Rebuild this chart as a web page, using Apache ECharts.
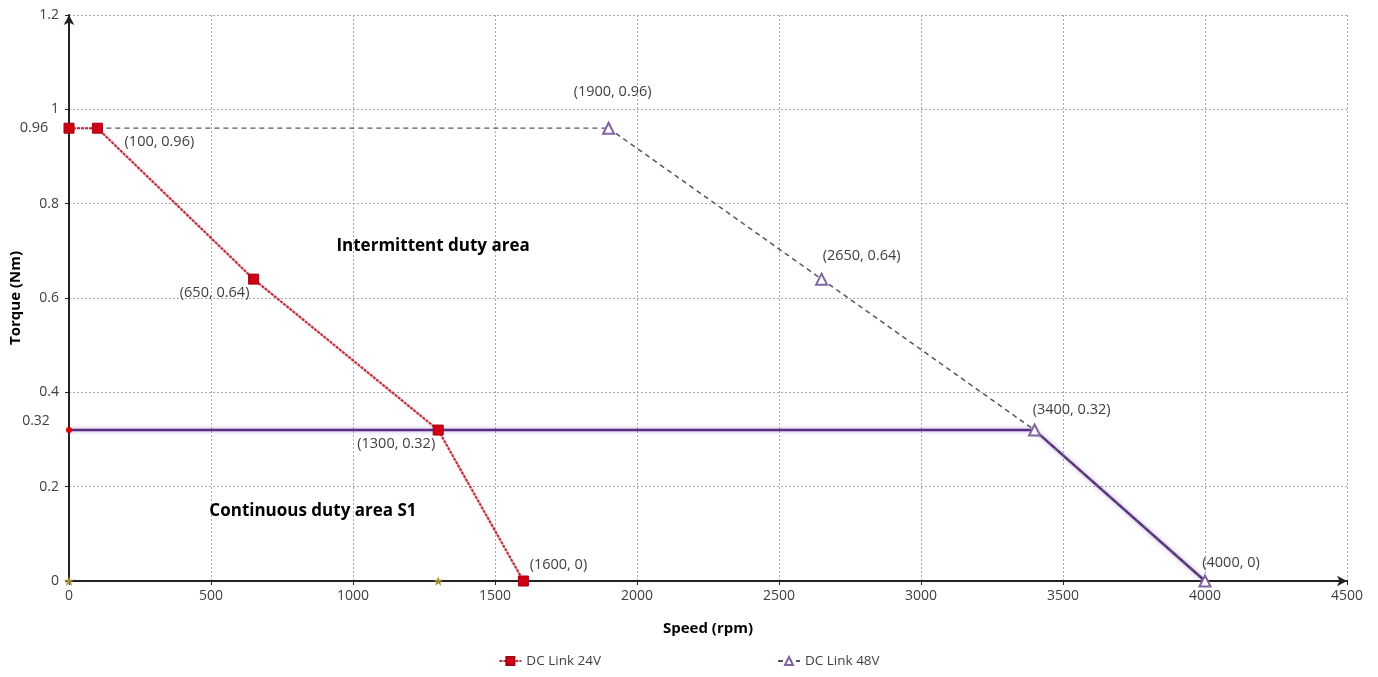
<!DOCTYPE html>
<html><head><meta charset="utf-8">
<script src="https://cdn.jsdelivr.net/npm/echarts@6/dist/echarts.min.js"></script>
<style>html,body{margin:0;padding:0;background:#fff}#c{width:1378px;height:677px}</style>
</head><body><div id="c"></div>
<script>
// ---- data ----
const xTicks = { min: 0, max: 4500, interval: 500 };
const yTicks = { min: 0, max: 1.2, interval: 0.2 };
const link24Speed = [0, 100, 650, 1300, 1600];
const link24Torque = [0.96, 0.96, 0.64, 0.32, 0];
const link48Speed = [1900, 2650, 3400, 4000];
const link48Torque = [0.96, 0.64, 0.32, 0];
const connectorSpeed = [100, 1900];
const connectorTorque = [0.96, 0.96];
const continuousSpeed = [0, 3400, 4000];
const continuousTorque = [0.32, 0.32, 0];
const starSpeed = [0, 1300];
const starTorque = [0, 0];
const areaLabels = ['Intermittent duty area', 'Continuous duty area S1'];
const areaSpeed = [1282, 859];
const areaTorque = [0.71, 0.148];

// ---- styling (offsets in px) ----
const off24 = [[-35, 0], [62, 14], [-39, 14], [-42, 14], [35, -16]];
const off48 = [[4, -36], [40, -23], [37, -20], [26, -18]];
const font = '"Open Sans", "Noto Sans", sans-serif';
const txt = '#404040';

function fmt(x, y) { return '(' + x + ', ' + y + ')'; }

const d24 = link24Speed.map((x, i) => ({
  value: [x, link24Torque[i]],
  label: { offset: off24[i], formatter: i === 0 ? String(link24Torque[i]) : fmt(x, link24Torque[i]) }
}));
const d48 = link48Speed.map((x, i) => ({
  value: [x, link48Torque[i]],
  label: { offset: off48[i], formatter: fmt(x, link48Torque[i]) }
}));
const dCont = continuousSpeed.map((x, i) => i === 0 ? ({
  value: [x, continuousTorque[i]],
  symbol: 'circle', symbolSize: 6,
  itemStyle: { color: '#e00000' },
  label: { show: true, position: 'inside', offset: [-33, -9], formatter: String(continuousTorque[i]), color: txt, fontSize: 14, fontFamily: font }
}) : ({ value: [x, continuousTorque[i]], symbol: 'none' }));

const labelBase = { show: true, position: 'inside', color: txt, fontSize: 14.5, fontFamily: font };

const option = {
  animation: false,
  grid: { left: 69, right: 31, top: 15, bottom: 96, containLabel: false, outerBoundsMode: 'none' },
  legend: {
    bottom: 4, left: 'center', itemGap: 176, itemWidth: 22, itemHeight: 10,
    textStyle: { color: txt, fontSize: 13.5, fontFamily: font },
    data: ['DC Link 24V', 'DC Link 48V']
  },
  xAxis: {
    type: 'value', min: xTicks.min, max: xTicks.max, interval: xTicks.interval,
    name: 'Speed (rpm)', nameLocation: 'middle', nameGap: 40,
    nameTextStyle: { fontWeight: 'bold', fontSize: 15, color: '#000', fontFamily: font },
    axisLine: { show: true, symbol: ['none', 'arrow'], symbolSize: [8, 10], lineStyle: { color: '#222', width: 2 } },
    axisTick: { show: true, length: 4, lineStyle: { color: '#222' } },
    axisLabel: { color: txt, fontSize: 14, fontFamily: font, margin: 8, formatter: v => String(v) },
    splitLine: { show: true, lineStyle: { color: '#aaa', type: [2, 2], width: 1 } }
  },
  yAxis: {
    type: 'value', min: yTicks.min, max: yTicks.max, interval: yTicks.interval,
    name: 'Torque (Nm)', nameLocation: 'middle', nameGap: 46,
    nameTextStyle: { fontWeight: 'bold', fontSize: 15, color: '#000', fontFamily: font },
    axisLine: { show: true, symbol: ['none', 'arrow'], symbolSize: [8, 10], lineStyle: { color: '#222', width: 2 } },
    axisTick: { show: true, length: 4, lineStyle: { color: '#222' } },
    axisLabel: { color: txt, fontSize: 14, fontFamily: font, margin: 10, formatter: v => String(+v.toFixed(2)) },
    splitLine: { show: true, lineStyle: { color: '#aaa', type: [2, 2], width: 1 } }
  },
  series: [
    {
      name: 'Continuous', type: 'line', clip: false, z: 3,
      data: dCont, symbol: 'none',
      lineStyle: { color: '#5a2d82', width: 2.5, shadowColor: 'rgba(160,120,200,0.7)', shadowBlur: 4 },
      itemStyle: { color: '#5a2d82' }
    },
    {
      name: 'connector', type: 'line', clip: false, z: 2, symbol: 'none',
      data: connectorSpeed.map((x, i) => [x, connectorTorque[i]]),
      lineStyle: { color: '#555566', width: 1.3, type: [5, 4] }
    },
    {
      name: 'DC Link 24V', type: 'line', clip: false, z: 5,
      data: d24, symbol: 'rect', symbolSize: 10,
      itemStyle: { color: '#d00010', borderColor: '#a00018', borderWidth: 1 },
      lineStyle: { color: '#b8303e', width: 2, type: [3, 1], shadowColor: 'rgba(230,130,140,0.7)', shadowBlur: 2 },
      label: labelBase
    },
    {
      name: 'DC Link 48V', type: 'line', clip: false, z: 4,
      data: d48, symbol: 'emptyTriangle', symbolSize: 11,
      itemStyle: { color: '#8064a2', borderColor: '#8064a2', borderWidth: 1.5 },
      lineStyle: { color: '#555566', width: 1.5, type: [5, 4] },
      label: labelBase
    },
    {
      name: 'stars', type: 'scatter', clip: false, z: 6,
      data: starSpeed.map((x, i) => [x, starTorque[i]]),
      symbol: 'path://M0,-10 L2,-3 L10,-3 L4,1 L6,9 L0,4 L-6,9 L-4,1 L-10,-3 L-2,-3 Z', symbolSize: 10,
      itemStyle: { color: '#a08a30', opacity: 1 }
    },
    {
      name: 'areas', type: 'scatter', clip: false, z: 7, symbolSize: 0, silent: true,
      itemStyle: { opacity: 1 },
      data: areaSpeed.map((x, i) => ({ value: [x, areaTorque[i]], name: areaLabels[i] })),
      label: { show: true, position: 'inside', formatter: p => p.name, fontWeight: 'bold', fontSize: 17, color: '#000', fontFamily: font }
    }
  ]
};
const chart = echarts.init(document.getElementById('c'));
chart.setOption(option);
</script></body></html>
